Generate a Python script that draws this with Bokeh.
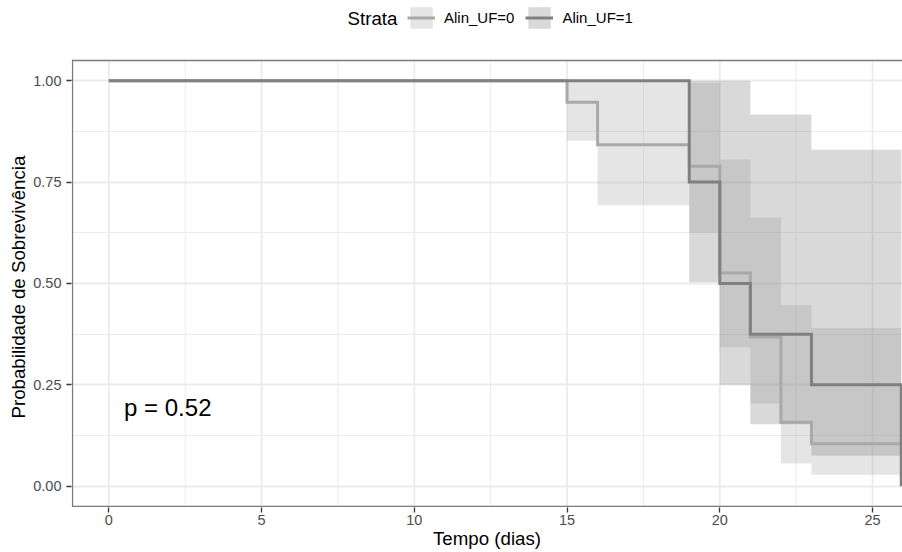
from bokeh.plotting import figure
from bokeh.models import FixedTicker, Legend, LegendItem, Label, Range1d, Title
from bokeh.embed import file_html
from bokeh.resources import INLINE

# ---------------- data ----------------
strata = ["Alin_UF=0", "Alin_UF=1"]
legend_title = "Strata"

time_0 = [0, 15, 16, 19, 20, 21, 22, 23, 25.94]
surv_0 = [1.000, 0.947, 0.842, 0.789, 0.526, 0.368, 0.158, 0.105, 0.105]
upper_0 = [1.000, 1.000, 1.000, 0.995, 0.806, 0.663, 0.446, 0.390, 0.390]
lower_0 = [1.000, 0.852, 0.693, 0.626, 0.343, 0.204, 0.056, 0.028, 0.028]

time_1 = [0, 19, 20, 21, 23, 25.94]
surv_1 = [1.000, 0.750, 0.500, 0.375, 0.250, 0.000]
upper_1 = [1.000, 1.000, 1.000, 0.917, 0.830, 0.830]
lower_1 = [1.000, 0.503, 0.250, 0.153, 0.075, 0.075]

x_ticks = [0, 5, 10, 15, 20, 25]
x_tick_labels = ["0", "5", "10", "15", "20", "25"]
y_ticks = [0.0, 0.25, 0.5, 0.75, 1.0]
y_tick_labels = ["0.00", "0.25", "0.50", "0.75", "1.00"]
x_title = "Tempo (dias)"
y_title = "Probabilidade de Sobrevivência"
p_value_text = "p = 0.52"

# ---------------- layout geometry (pixels) ----------------
FONT = "Liberation Sans"
col = ["#a9a9a9", "#808080"]
W, H = 902, 552
FR_L, FR_R, FR_T, FR_B = 71, 902, 0, 507      # plotting frame (extends up to host legend)
X_ZERO_PX, PX_PER_X = 108.3, 30.55
Y_ZERO_PX, PX_PER_Y = 485.7, 405.45
x_start = (FR_L - X_ZERO_PX) / PX_PER_X
x_end = (FR_R - X_ZERO_PX) / PX_PER_X
y_start = (Y_ZERO_PX - FR_B) / PX_PER_Y
y_end = (Y_ZERO_PX - FR_T) / PX_PER_Y
# visible panel (as in ggplot): y in [-0.05, 1.05], left edge at x px 72
PX0 = (72 - X_ZERO_PX) / PX_PER_X
PY0, PY1 = -0.05, 1.05

p = figure(width=W, height=H, output_backend="svg", toolbar_location=None,
           x_range=Range1d(x_start, x_end), y_range=Range1d(y_start, y_end),
           min_border_left=FR_L, min_border_right=W - FR_R, min_border_top=FR_T,
           min_border_bottom=H - FR_B,
           background_fill_color="white", border_fill_color="white",
           x_axis_label=x_title)
p.outline_line_color = None

x_minor = [(a + b) / 2 for a, b in zip(x_ticks[:-1], x_ticks[1:])]
y_minor = [(a + b) / 2 for a, b in zip(y_ticks[:-1], y_ticks[1:])]
p.xaxis.ticker = FixedTicker(ticks=x_ticks, minor_ticks=x_minor)
p.yaxis.ticker = FixedTicker(ticks=y_ticks, minor_ticks=y_minor)
p.xaxis.major_label_overrides = {t: l for t, l in zip(x_ticks, x_tick_labels)}
p.yaxis.major_label_overrides = {t: l for t, l in zip(y_ticks, y_tick_labels)}

# horizontal grid from the axis ticker, vertical grid drawn only inside the panel
p.xgrid.visible = False
yg = p.ygrid[0]
yg.grid_line_color = "#ebebeb"
yg.grid_line_width = 1.8
yg.minor_grid_line_color = "#ebebeb"
yg.minor_grid_line_width = 1.0
p.segment(x0=x_ticks, y0=[PY0] * len(x_ticks), x1=x_ticks, y1=[PY1] * len(x_ticks),
          line_color="#ebebeb", line_width=1.8)
p.segment(x0=x_minor, y0=[PY0] * len(x_minor), x1=x_minor, y1=[PY1] * len(x_minor),
          line_color="#ebebeb", line_width=1.0)

for ax in (p.xaxis[0], p.yaxis[0]):
    ax.axis_line_color = None
    ax.major_tick_out = 5
    ax.major_tick_in = 0
    ax.major_tick_line_color = "#333333"
    ax.major_tick_line_width = 1.3
    ax.minor_tick_line_color = None
    ax.major_label_text_font = FONT
    ax.major_label_text_font_size = "14.5px"
    ax.major_label_text_color = "#4d4d4d"
    ax.axis_label_text_font = FONT
    ax.axis_label_text_font_size = "18.7px"
    ax.axis_label_text_color = "black"
    ax.axis_label_text_font_style = "normal"
p.xaxis.major_label_standoff = 2
p.xaxis.axis_label_standoff = 0
p.yaxis.major_label_standoff = 5

# y axis title, centred on the visible panel rather than on the taller frame
p.add_layout(Title(text=y_title, align="left", offset=89, text_font=FONT,
                   text_font_size="18.7px", text_font_style="normal",
                   text_color="black", standoff=3), "left")

# confidence bands
b0 = p.varea_step(x=time_0, y1=lower_0, y2=upper_0, step_mode="after",
                  fill_color=col[0], fill_alpha=0.3)
b1 = p.varea_step(x=time_1, y1=lower_1, y2=upper_1, step_mode="after",
                  fill_color=col[1], fill_alpha=0.3)
# survival curves
l0 = p.step(x=time_0, y=surv_0, mode="after", line_color=col[0], line_width=3,
            line_join="miter")
l1 = p.step(x=time_1, y=surv_1, mode="after", line_color=col[1], line_width=3,
            line_join="miter")

# panel border: left, top, bottom
p.segment(x0=[PX0, PX0, PX0], y0=[PY0, PY1, PY0], x1=[PX0, x_end + 1, x_end + 1],
          y1=[PY1, PY1, PY0], line_color="#7a7a7a", line_width=1.3, line_cap="square")

# p-value
p.add_layout(Label(x=0.5, y=(Y_ZERO_PX - 407) / PX_PER_Y, text=p_value_text,
                   text_font=FONT, text_font_size="24px", text_color="black",
                   text_align="left", text_baseline="alphabetic"))

# legend (inside the tall frame, above the panel)
p.add_layout(Label(x=(347 - X_ZERO_PX) / PX_PER_X, y=(Y_ZERO_PX - 18) / PX_PER_Y,
                   text=legend_title, text_font=FONT, text_font_size="18.7px",
                   text_color="black", text_align="left", text_baseline="alphabetic"))
legend = Legend(items=[LegendItem(label=strata[0], renderers=[b0, l0]),
                       LegendItem(label=strata[1], renderers=[b1, l1])],
                orientation="horizontal", location=(407 - FR_L, FR_B - 31),
                label_text_font=FONT, label_text_font_size="15px", label_text_color="black",
                glyph_width=28, glyph_height=27, label_standoff=9, spacing=11,
                padding=0, margin=0, border_line_color=None, background_fill_alpha=0)
p.add_layout(legend)

open("out.html", "w").write(file_html(p, INLINE))
